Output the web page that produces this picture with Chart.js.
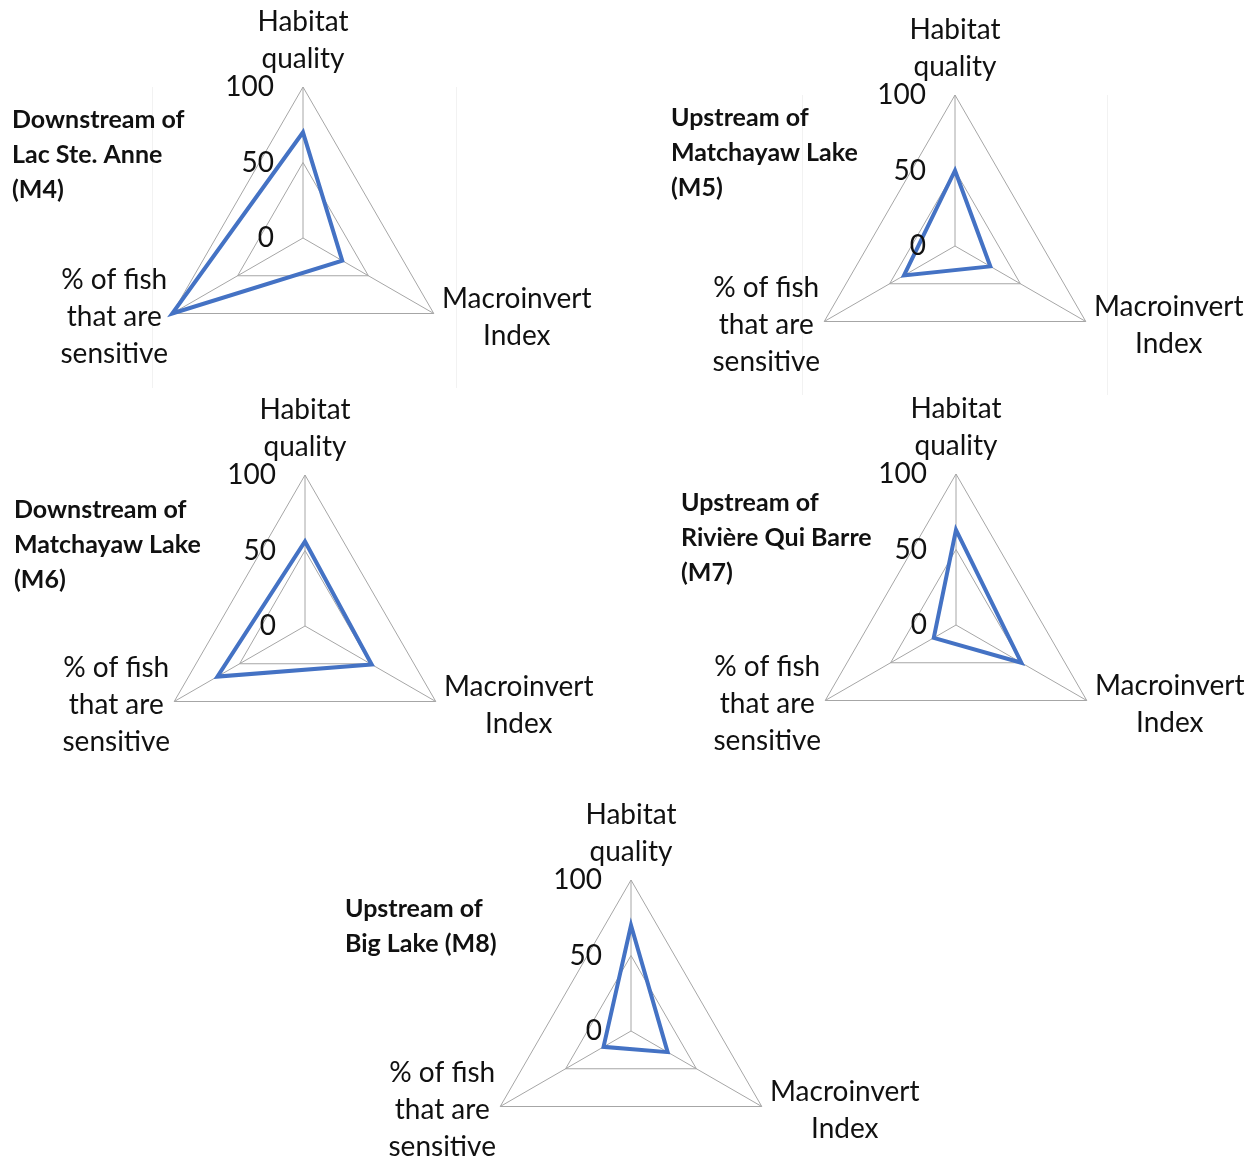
<!DOCTYPE html>
<html>
<head>
<meta charset="utf-8">
<script src="https://cdn.jsdelivr.net/npm/chart.js@4/dist/chart.umd.min.js"></script>
<style>
  body { margin: 0; background: #fff; overflow: hidden; }
  #page { position: relative; width: 1255px; height: 1159px; overflow: hidden; }
  canvas { position: absolute; }
  .frame { position: absolute; border-left: 1px solid #f2f2f2; border-right: 1px solid #f2f2f2; }
</style>
</head>
<body>
<div id="page">
  <div class="frame" style="left:152px; top:87px; width:303px; height:301px;"></div>
  <div class="frame" style="left:802px; top:95px; width:304px; height:300px;"></div>
</div>
<script>
// axes of each radar (clockwise from the top)
const axisLabels = [['Habitat', 'quality'], ['Macroinvert', 'Index'], ['% of fish', 'that are', 'sensitive']];
const tickValues = [0, 50, 100];

// one entry per site
const siteNames = [
  ['Downstream of', 'Lac Ste. Anne', '(M4)'],
  ['Upstream of', 'Matchayaw Lake', '(M5)'],
  ['Downstream of', 'Matchayaw Lake', '(M6)'],
  ['Upstream of', 'Rivière Qui Barre', '(M7)'],
  ['Upstream of', 'Big Lake (M8)']
];
const habitat = [70, 50, 56, 63, 70];
const macroinvert = [30, 27, 51, 50, 28];
const fishSensitive = [100, 39, 67, 17, 21];

// where each radar sits on the page (center) and where its title goes
const layout = [
  { cx: 303, cy: 238, tx: -291, ty: -118 },
  { cx: 955, cy: 246, tx: -284, ty: -128 },
  { cx: 305, cy: 626, tx: -291, ty: -116 },
  { cx: 956, cy: 625, tx: -275, ty: -122 },
  { cx: 631, cy: 1031, tx: -286, ty: -122 }
];

const W = 620, H = 400, R = 151;
const CX = 310, CY = 240;
const labelFont = '28px Lato';
const titleFont = 'bold 25px Lato';
const textColor = '#111';

const labelsPlugin = {
  id: 'radarText',
  afterDraw(chart, args, opts) {
    const ctx = chart.ctx;
    const scale = chart.scales.r;
    const c = { x: scale.xCenter, y: scale.yCenter };
    ctx.save();
    ctx.fillStyle = textColor;
    ctx.textBaseline = 'middle';

    // tick labels on the left of the top axis
    ctx.font = labelFont;
    ctx.textAlign = 'right';
    for (const v of tickValues) {
      const p = scale.getPointPositionForValue(0, v);
      ctx.fillText(String(v), p.x - 29, p.y);
    }

    // axis labels
    ctx.textAlign = 'center';
    const top = scale.getPointPosition(0, scale.drawingArea);
    ctx.fillText(axisLabels[0][0], top.x, top.y - 65);
    ctx.fillText(axisLabels[0][1], top.x, top.y - 28);
    const br = scale.getPointPosition(1, scale.drawingArea);
    ctx.fillText(axisLabels[1][0], br.x + 83, br.y - 15);
    ctx.fillText(axisLabels[1][1], br.x + 83, br.y + 22);
    const bl = scale.getPointPosition(2, scale.drawingArea);
    axisLabels[2].forEach((t, i) => ctx.fillText(t, bl.x - 58, bl.y - 34 + i * 37));

    // site title
    ctx.font = titleFont;
    ctx.textAlign = 'left';
    opts.title.forEach((t, i) => ctx.fillText(t, c.x + opts.tx, c.y + opts.ty + i * 35));
    ctx.restore();
  }
};

const page = document.getElementById('page');

siteNames.forEach((name, k) => {
  const pos = layout[k];
  const canvas = document.createElement('canvas');
  canvas.width = W;
  canvas.height = H;
  canvas.style.left = (pos.cx - CX) + 'px';
  canvas.style.top = (pos.cy - CY) + 'px';
  page.appendChild(canvas);

  new Chart(canvas, {
    type: 'radar',
    data: {
      labels: axisLabels.map(a => a.join(' ')),
      datasets: [{
        data: [habitat[k], macroinvert[k], fishSensitive[k]],
        borderColor: '#4472c4',
        borderWidth: 4,
        borderJoinStyle: 'miter',
        fill: false,
        pointRadius: 0,
        pointHoverRadius: 0
      }]
    },
    options: {
      responsive: false,
      animation: false,
      devicePixelRatio: 1,
      layout: { padding: { top: CY - R, bottom: H - CY - R, left: CX - R, right: W - CX - R } },
      scales: {
        r: {
          min: 0,
          max: 100,
          ticks: { stepSize: 50, display: false, showLabelBackdrop: false },
          grid: { color: '#a6a6a6', lineWidth: 1 },
          angleLines: { color: '#a6a6a6', lineWidth: 1 },
          pointLabels: { display: false }
        }
      },
      plugins: {
        legend: { display: false },
        tooltip: { enabled: false },
        radarText: { title: name, tx: pos.tx, ty: pos.ty }
      }
    },
    plugins: [labelsPlugin]
  });
});
</script>
</body>
</html>
